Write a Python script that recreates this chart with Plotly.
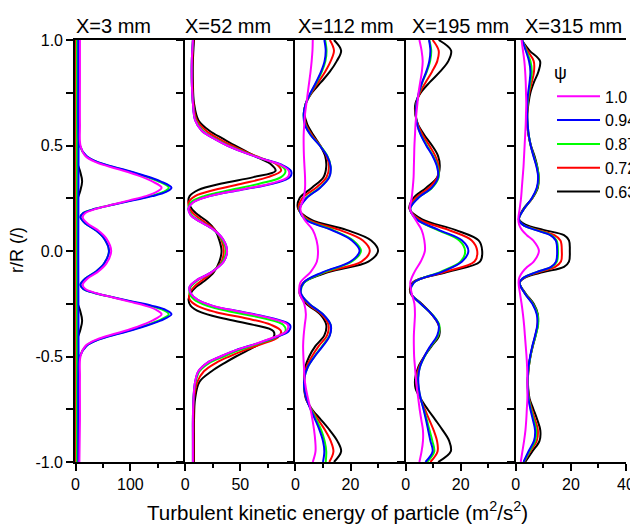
import plotly.graph_objects as go

# ---------------- data ----------------
PANEL_TITLES = ["X=3 mm", "X=52 mm", "X=112 mm", "X=195 mm", "X=315 mm"]
PSI_LABELS = ["1.0", "0.94", "0.87", "0.72", "0.63"]
Y_MAJOR = [1.0, 0.5, 0.0, -0.5, -1.0]
Y_MAJOR_TEXT = ["1.0", "0.5", "0.0", "-0.5", "-1.0"]
Y_MINOR = [0.75, 0.25, -0.25, -0.75]

# Panel 1 (X=3 mm)
R1 = [1.0, 0.8, 0.6, 0.5, 0.45, 0.42, 0.39, 0.36, 0.33, 0.3, 0.28, 0.26, 0.24, 0.22, 0.2, 0.18, 0.16, 0.13, 0.1, 0.06, 0.0,
      -0.06, -0.1, -0.13, -0.16, -0.18, -0.2, -0.22, -0.24, -0.26, -0.28, -0.3, -0.33, -0.36, -0.39, -0.42, -0.45, -0.5, -0.6, -0.8, -1.0]
P1_M = [8, 8, 8, 9, 18, 38, 75, 112, 140, 157, 148, 128, 98, 68, 38, 18, 13, 22, 40, 56, 65,
        56, 40, 22, 13, 18, 38, 68, 98, 128, 148, 157, 140, 112, 75, 38, 18, 9, 8, 8, 7]
P1_B = [5.5, 5.5, 5.5, 8, 20, 42, 82, 122, 155, 175, 165, 140, 105, 70, 36, 14, 9, 18, 36, 52, 61,
        52, 36, 18, 9, 14, 36, 70, 105, 140, 165, 175, 155, 122, 82, 42, 20, 8, 5.5, 5.5, 5.5]
P1_G_PEAK = [5, 5, 5, 7.5, 19, 41, 80, 119, 151, 170, 160, 136, 102, 69, 36, 14, 9, 18, 36, 52, 61,
             52, 36, 18, 9, 14, 36, 69, 102, 136, 160, 170, 151, 119, 80, 41, 19, 7.5, 5, 5, 5]
R1_BASE = [1.0, 0.5, 0.0, -0.5, -1.0]
P1_B_BASE = [5.5, 5.5, 5.0, 5.5, 5.5]
P1_G = [2.5, 2.5, 2.5, 2.5, 2.5]
P1_R = [0.8, 0.8, 0.8, 0.8, 0.8]
R1_K = [1.0, 0.5, 0.42, 0.38, 0.33, 0.28, 0.24, 0.15, 0.0, -0.15, -0.24, -0.28, -0.33, -0.38, -0.42, -0.5, -1.0]
P1_K = [2, 2, 3, 8, 12, 8, 3, 2, 2, 2, 3, 8, 12, 8, 3, 2, 2]

# Panel 2 (X=52 mm)
R2 = [1.0, 0.9, 0.8, 0.7, 0.62, 0.57, 0.53, 0.5, 0.47, 0.44, 0.41, 0.38, 0.35, 0.32, 0.29, 0.26, 0.23, 0.2, 0.17, 0.14, 0.1, 0.05, 0.0,
      -0.05, -0.1, -0.14, -0.17, -0.2, -0.23, -0.26, -0.29, -0.32, -0.35, -0.38, -0.41, -0.44, -0.47, -0.5, -0.53, -0.57, -0.62, -0.7, -0.8, -0.9, -1.0]
P2_M = [7, 6, 6, 7, 9, 15, 27, 38, 52, 68, 86, 94, 93, 78, 50, 22, 7, 3, 5, 13, 26, 35, 38,
        35, 24, 10, 4, 5, 11, 25, 52, 78, 93, 92, 80, 64, 46, 32, 20, 12, 9, 7.5, 7, 7, 7]
P2_B = [7, 6, 6, 7, 9, 15, 27, 38, 52, 68, 87, 96, 95, 80, 51, 22, 7, 3, 5, 13, 26, 35, 38,
        35, 24, 10, 4, 5, 11, 25, 53, 80, 95, 94, 81, 64, 46, 32, 20, 12, 9, 7.5, 7, 7, 7]
P2_G = [7, 6, 6, 7, 9.5, 16, 28, 39, 53, 68, 85, 91, 87, 68, 42, 17, 5, 3, 6, 14, 26, 34, 37,
        34, 24, 11, 5, 4, 8, 20, 44, 72, 89, 91, 82, 66, 49, 35, 22, 13, 9.5, 7.5, 7, 7, 7]
P2_R = [7.5, 6.5, 6.5, 7.5, 10.5, 19, 31, 42, 55, 69, 83, 87, 75, 52, 27, 9, 3, 4, 9, 17, 27, 33, 35,
        33, 25, 15, 8, 4, 4, 11, 28, 56, 78, 87, 84, 70, 54, 40, 28, 17, 11, 8, 7.5, 7.5, 7.5]
P2_K = [8, 7, 7, 8, 12, 22, 35, 45, 56, 67, 78, 82, 62, 33, 12, 4, 3, 6, 12, 20, 27, 31, 33,
        31, 26, 18, 10, 5, 3, 5, 14, 35, 62, 80, 80, 68, 57, 46, 36, 24, 13, 9, 8, 8, 8]

# Panels 3 and 4 share a grid
R34 = [1.0, 0.95, 0.9, 0.85, 0.8, 0.75, 0.7, 0.65, 0.6, 0.55, 0.5, 0.45, 0.4, 0.35, 0.3, 0.25, 0.2, 0.15, 0.1, 0.05, 0.0,
       -0.05, -0.1, -0.15, -0.2, -0.25, -0.3, -0.35, -0.4, -0.45, -0.5, -0.55, -0.6, -0.65, -0.7, -0.75, -0.8, -0.85, -0.9, -0.95, -1.0]
P3_M = [6.3, 6.2, 5.9, 5.5, 5, 4.5, 4, 3.5, 3.2, 3.0, 3.0, 3.1, 3.3, 3.5, 3.5, 3, 1.8, 3.2, 6.3, 7.7, 8.2,
        7.8, 5.5, 1.8, 1.5, 3.2, 3.8, 3.4, 3.0, 2.8, 2.9, 3.1, 3.3, 3.8, 4.6, 5.5, 6.2, 6.8, 7.2, 7.3, 6.3]
P3_B = [10.5, 11, 10.6, 9.3, 7.5, 5.5, 3.8, 3.0, 3.4, 5.5, 8.8, 11.5, 12.8, 12.3, 9, 4, 1.6, 3.5, 13, 20.5, 23.3,
        20, 10, 3, 2, 5, 10, 12.8, 12.5, 10, 7, 4.5, 3.3, 3.2, 4, 5.5, 7.2, 8.8, 10, 10.5, 10]
P3_G = [10.8, 11.3, 10.9, 9.6, 7.7, 5.6, 3.8, 3.0, 3.5, 5.6, 8.9, 11.6, 12.8, 12.2, 8.8, 3.8, 1.5, 3.8, 13.5, 21, 23.8,
        20.5, 10.5, 3.2, 2, 5, 10, 12.8, 12.4, 9.8, 6.9, 4.5, 3.3, 3.2, 4.1, 5.7, 7.6, 9.4, 10.6, 11.2, 11]
P3_R = [12.5, 14, 12.8, 10.8, 8.3, 5.8, 3.8, 3.1, 3.8, 6, 9, 11.3, 12.2, 11.3, 7.5, 2.5, 1.2, 4.5, 16, 24.5, 27,
        24, 11, 3, 1.7, 4.5, 9.5, 12, 11.5, 8.5, 6, 4, 3.2, 3.2, 3.9, 5.8, 8.3, 10.8, 12.8, 13.8, 12.3]
P3_K = [14, 16.6, 15, 12.5, 9.3, 6, 3.8, 3.3, 4.3, 6.5, 9, 10.8, 11.2, 10.2, 6, 1.5, 1.0, 5.5, 18.5, 27.5, 30,
        26.5, 12, 3, 1.5, 4, 9, 11.2, 10.5, 7.3, 5, 3.6, 3.2, 3.2, 3.8, 6, 9.3, 12.5, 15.2, 16.6, 14]

P4_M = [5, 5.8, 6.2, 5.9, 5.3, 4.7, 4.3, 3.9, 3.6, 3.4, 3.2, 3.1, 3.0, 2.9, 2.6, 2.2, 1.6, 3.5, 5.8, 6.8, 7,
        5.5, 3.2, 1.7, 2.2, 3.2, 3.4, 3.2, 3.0, 3.0, 3.1, 3.4, 3.7, 4.1, 4.6, 5.1, 5.7, 6.3, 6.3, 5.8, 5]
P4_B = [8.5, 9, 8.6, 7.5, 6, 4.8, 4, 3.7, 4.2, 5.5, 7.5, 9.8, 11.4, 11.8, 9.5, 4.5, 1.7, 4, 12, 20.5, 22.8,
        20.5, 13, 3, 2, 5.5, 9.5, 12, 11.5, 9, 6.8, 5.2, 4.6, 4.8, 5.5, 6.5, 7.4, 8.2, 9, 9.8, 7.2]
P4_G = [8.6, 9.3, 8.9, 7.7, 6.1, 4.9, 4, 3.7, 4.2, 5.6, 7.7, 10, 11.6, 12, 9.6, 4.4, 1.7, 4, 11.5, 19.5, 21.6,
        20, 12.5, 3, 2, 5.5, 9.6, 12.2, 11.8, 9.2, 6.9, 5.2, 4.5, 4.7, 5.5, 6.6, 7.7, 8.7, 9.7, 10.4, 7.8]
P4_R = [9.8, 12, 11.5, 9.6, 7.3, 5.2, 3.9, 3.6, 4.4, 6.2, 8.6, 10.8, 12, 11.6, 8.5, 3.5, 1.5, 5, 15.5, 24, 26,
        25, 14, 2.8, 1.9, 5.6, 9.5, 12, 11.8, 9.2, 6.8, 4.9, 4, 4.2, 5.4, 7, 8.6, 10.2, 11.4, 11.6, 9]
P4_K = [12, 16.5, 15.5, 12.5, 8.8, 5.5, 3.6, 3.5, 4.5, 6.8, 9.6, 11.8, 12.4, 11.5, 7.5, 2.8, 1.4, 6, 18, 26.5, 27.8,
        27, 15, 2.5, 1.8, 5.8, 9.5, 12, 12.2, 9.5, 6.8, 4.6, 3.5, 3.6, 5.5, 8, 10.8, 13.5, 15.8, 16.4, 11.8]

# Panel 5 (X=315 mm)
R5 = [1.0, 0.95, 0.9, 0.85, 0.8, 0.75, 0.7, 0.65, 0.6, 0.55, 0.5, 0.45, 0.4, 0.35, 0.3, 0.25, 0.2, 0.15, 0.125, 0.1, 0.075, 0.05, 0.0,
      -0.05, -0.075, -0.1, -0.125, -0.15, -0.2, -0.25, -0.3, -0.35, -0.4, -0.45, -0.5, -0.55, -0.6, -0.65, -0.7, -0.75, -0.8, -0.85, -0.9, -0.95, -1.0]
P5_M = [2.1, 2.6, 3.1, 3.4, 3.6, 3.7, 3.8, 3.7, 3.6, 3.4, 3.2, 3.0, 2.8, 2.5, 2.2, 1.9, 1.4, 0.9, 1.2, 2.2, 4, 6.3, 8.4,
        6.5, 4.2, 2.4, 1.3, 1.0, 1.5, 2.1, 2.6, 3.0, 3.3, 3.6, 3.9, 4.1, 4.2, 4.2, 4.2, 4.0, 3.8, 3.5, 3.0, 2.4, 1.8]
P5_B = [2.3, 3.6, 4.8, 5.3, 5.0, 4.5, 4.2, 4.1, 4.3, 4.7, 5.4, 6.4, 7.5, 8.1, 7.6, 5.8, 3, 1.1, 2.5, 7, 12.5, 14.5, 15,
        14.6, 12.8, 7.5, 3, 1.4, 3.2, 6, 7.6, 7.8, 7.0, 6.0, 5.2, 4.6, 4.3, 4.3, 4.6, 5.3, 6.2, 7, 6.6, 4.6, 2.8]
P5_G = [2.3, 3.8, 5.3, 5.8, 5.3, 4.7, 4.3, 4.1, 4.3, 4.7, 5.4, 6.5, 7.7, 8.3, 7.8, 5.9, 3, 1.1, 2.5, 7.2, 12.8, 14.8, 15.3,
        14.9, 13, 7.6, 3, 1.4, 3.3, 6.2, 7.9, 8.1, 7.2, 6.1, 5.3, 4.7, 4.4, 4.4, 4.7, 5.5, 6.5, 7.4, 7, 4.9, 2.9]
P5_R = [2.2, 4.2, 6.5, 6.6, 5.8, 4.9, 4.4, 4.1, 4.2, 4.6, 5.4, 6.5, 7.6, 8.2, 7.8, 6, 3, 1.1, 2.5, 8, 14, 16.2, 16.7,
        16.4, 14.3, 8.5, 3.2, 1.4, 3.3, 6.2, 7.8, 7.9, 7.1, 6.1, 5.3, 4.7, 4.4, 4.4, 4.8, 5.8, 7, 8, 7.6, 5.2, 3]
P5_K = [2.1, 5, 8.8, 8.2, 6.6, 5.3, 4.6, 4.2, 4.2, 4.6, 5.5, 6.8, 7.8, 8.3, 8, 6, 2.8, 1.2, 3.5, 10, 17.5, 19.3, 19.6,
        19.3, 17.5, 10, 3.5, 1.3, 3.5, 6.5, 8, 8, 7.2, 6.2, 5.3, 4.7, 4.4, 4.5, 5, 6.4, 7.8, 8.9, 8.6, 6, 3.4]

X_RANGES = [[-1, 200], [0, 100], [0, 40], [0, 40], [0, 40]]
X_MAJOR = [[0, 100], [0, 50], [0, 20], [0, 20], [0, 20, 40]]
X_MINOR = [[50, 150], [25, 75], [10, 30], [10, 30], [10, 30]]

# ---------------- styling ----------------
COL = {"1.0": "#FF00FF", "0.94": "#0000FF", "0.87": "#00FF00", "0.72": "#FF0000", "0.63": "#000000"}
RANK = {lab: i + 1 for i, lab in enumerate(PSI_LABELS)}
FONT = "Liberation Sans, Arial, sans-serif"

# page body has an 8 px margin: figure is placed at (8, 8) in the window;
# it is made a little wider than the window so the legend is cut by the window edge
W, H = 645, 517
ML, MT, MR, MB = 67, 32, 0, 63           # plot rows: y 40..462 in window pixels
PW, PH = W - ML - MR, H - MT - MB
PLOT_LEFT, PLOT_RIGHT = 75, 626          # window pixels of the panel block


def px_x(win_x):
    return (win_x - 8 - ML) / PW


def px_y(win_y):
    return (H - MB - (win_y - 8)) / PH


SERIES = [
    (1, "0.63", R1_K, P1_K, True), (1, "0.72", R1_BASE, P1_R, True), (1, "0.87", R1_BASE, P1_G, True),
    (1, "0.87", R1, P1_G_PEAK, False), (1, "0.94", R1_BASE, P1_B_BASE, False),
    (1, "0.94", R1, P1_B, True), (1, "1.0", R1, P1_M, True),
    (2, "0.63", R2, P2_K, False), (2, "0.72", R2, P2_R, False), (2, "0.87", R2, P2_G, False),
    (2, "0.94", R2, P2_B, False), (2, "1.0", R2, P2_M, False),
    (3, "0.63", R34, P3_K, False), (3, "0.72", R34, P3_R, False), (3, "0.87", R34, P3_G, False),
    (3, "0.94", R34, P3_B, False), (3, "1.0", R34, P3_M, False),
    (4, "0.63", R34, P4_K, False), (4, "0.72", R34, P4_R, False), (4, "0.87", R34, P4_G, False),
    (4, "0.94", R34, P4_B, False), (4, "1.0", R34, P4_M, False),
    (5, "0.63", R5, P5_K, False), (5, "0.72", R5, P5_R, False), (5, "0.87", R5, P5_G, False),
    (5, "0.94", R5, P5_B, False), (5, "1.0", R5, P5_M, False),
]

fig = go.Figure()
for panel, psi, rr, vals, show in SERIES:
    sfx = "" if panel == 1 else str(panel)
    fig.add_trace(go.Scatter(
        x=vals, y=rr, mode="lines", name=psi, legendgroup=psi, showlegend=show,
        legendrank=RANK[psi],
        line=dict(color=COL[psi], width=2, shape="spline", smoothing=1.0),
        xaxis="x" + sfx, yaxis="y" + sfx, hoverinfo="skip"))

layout = dict(
    width=W, height=H, autosize=False,
    margin=dict(l=ML, r=MR, t=MT, b=MB, autoexpand=False),
    paper_bgcolor="white", plot_bgcolor="white",
    font=dict(family=FONT, size=16, color="black"),
    showlegend=True,
    legend=dict(x=px_x(552), y=px_y(56), xanchor="left", yanchor="top",
                bgcolor="rgba(0,0,0,0)", borderwidth=0,
                font=dict(family=FONT, size=16, color="black"),
                title=dict(text="\u03c8", font=dict(family=FONT, size=18)),
                tracegroupgap=0, itemwidth=43),
)
n = 5
panel_w = (PLOT_RIGHT - PLOT_LEFT) / n
for i in range(n):
    sfx = "" if i == 0 else str(i + 1)
    d0 = px_x(PLOT_LEFT + i * panel_w)
    d1 = px_x(PLOT_LEFT + (i + 1) * panel_w)
    layout["xaxis" + sfx] = dict(
        domain=[d0, d1], range=X_RANGES[i], anchor="y" + sfx,
        showline=True, linecolor="black", linewidth=1.6, mirror=True,
        ticks="outside", ticklen=7, tickwidth=1.5, tickcolor="black",
        tickvals=X_MAJOR[i], ticktext=[str(v) for v in X_MAJOR[i]],
        tickfont=dict(family=FONT, size=16),
        minor=dict(tickvals=X_MINOR[i], ticks="outside", ticklen=4, tickwidth=1.5, tickcolor="black"),
        showgrid=False, zeroline=False, fixedrange=True)
    layout["yaxis" + sfx] = dict(
        domain=[0, 1], range=[-1, 1], anchor="x" + sfx,
        showline=True, linecolor="black", linewidth=1.6, mirror=False,
        ticks="outside", ticklen=7, tickwidth=1.5, tickcolor="black",
        tickvals=Y_MAJOR, ticktext=Y_MAJOR_TEXT, showticklabels=(i == 0),
        tickfont=dict(family=FONT, size=16),
        minor=dict(tickvals=Y_MINOR, ticks="outside", ticklen=7, tickwidth=1.5, tickcolor="black"),
        showgrid=False, zeroline=False, fixedrange=True)
fig.update_layout(**layout)

# panel titles (left aligned above each panel)
TITLE_X_PX = [74, 183, 296, 410, 523]
for t, wx in zip(PANEL_TITLES, TITLE_X_PX):
    fig.add_annotation(text=t, xref="paper", yref="paper", x=px_x(wx), y=1,
                       xanchor="left", yanchor="bottom", yshift=1, showarrow=False,
                       font=dict(family=FONT, size=20, color="black"))

fig.add_annotation(text="Turbulent kinetic energy of particle (m<sup>2</sup>/s<sup>2</sup>)",
                   xref="paper", yref="paper", x=px_x(337), y=px_y(511),
                   xanchor="center", yanchor="middle", showarrow=False,
                   font=dict(family=FONT, size=20.5, color="black"))
fig.add_annotation(text="r/R (/)", xref="paper", yref="paper", x=px_x(17), y=px_y(250),
                   xanchor="center", yanchor="middle", textangle=-90, showarrow=False,
                   font=dict(family=FONT, size=18, color="black"))

fig.write_html("out.html", config={"displayModeBar": False})
